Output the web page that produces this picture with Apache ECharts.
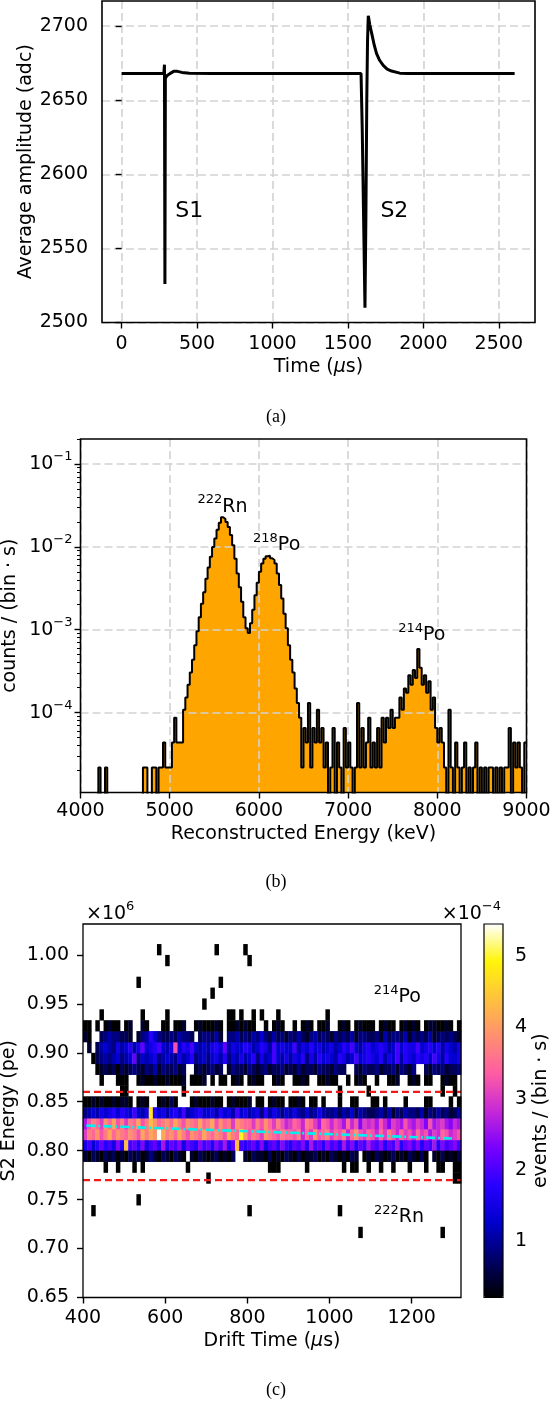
<!DOCTYPE html>
<html>
<head>
<meta charset="utf-8">
<title>Radon detector figure</title>
<script src="https://cdn.jsdelivr.net/npm/echarts@6.0.0/dist/echarts.min.js"></script>
<style>
  html, body { margin: 0; padding: 0; background: #fff; }
  #chart { width: 550px; height: 1401px; }
</style>
</head>
<body>
<div id="chart"></div>
<script>
// ---------- (a) averaged waveform ----------
var waveTime = [0, 100, 200, 280, 284, 287, 290, 300, 320, 345, 370, 400, 450, 600, 800, 1000, 1200, 1400,
  1587, 1595, 1604, 1613, 1619, 1625, 1630, 1635, 1645, 1658, 1675, 1690, 1710, 1734, 1760, 1789, 1844, 1900,
  2100, 2300, 2500, 2605];
var waveAmp = [2668, 2668, 2668, 2668, 2674, 2526, 2665, 2666.5, 2668, 2669.5, 2669.5, 2668.8, 2668.3, 2668, 2668, 2668, 2668, 2668,
  2668, 2630, 2570, 2510, 2570, 2650, 2690, 2707, 2701, 2695, 2687, 2681.5, 2677, 2673.5, 2671, 2669.7, 2668.3, 2668,
  2668, 2668, 2668, 2668];
var waveTimeTicks = [0, 500, 1000, 1500, 2000, 2500];
var waveAmpTicks = [2500, 2550, 2600, 2650, 2700];

// ---------- (b) energy spectrum, counts per 25 keV bin from 4000 keV ----------
var specFirstEdge = 4000;
var specBinWidth = 25;
var specCounts = [
  0, 0, 0, 0, 0, 0, 0, 0, 1, 0,
  0, 1, 0, 0, 0, 0, 0, 0, 0, 0,
  0, 0, 0, 0, 0, 0, 0, 0, 1, 1,
  0, 0, 1, 1, 0, 1, 1, 2, 1, 1,
  1, 2, 4, 2, 2, 2, 5, 7, 10, 14,
  20, 30, 44, 65, 95, 130, 190, 260, 350, 460,
  580, 740, 900, 1050, 1000, 920, 800, 640, 480, 330,
  220, 150, 100, 65, 48, 42, 55, 80, 120, 170,
  230, 290, 330, 355, 360, 335, 320, 290, 220, 160,
  110, 72, 48, 30, 20, 14, 9, 6, 4, 1,
  3, 2, 6, 1, 3, 2, 5, 2, 3, 1,
  2, 0, 1, 3, 0, 2, 1, 0, 3, 1,
  2, 1, 0, 1, 6, 1, 3, 1, 2, 4,
  1, 2, 1, 3, 1, 4, 2, 4, 3, 5,
  3, 4, 4, 7, 5, 9, 8, 13, 10, 15,
  12, 27, 16, 10, 13, 8, 11, 5, 7, 3,
  2, 3, 2, 1, 0, 5, 1, 0, 2, 1,
  0, 1, 2, 0, 1, 0, 1, 2, 0, 1,
  0, 1, 0, 1, 1, 0, 1, 0, 1, 0,
  1, 1, 3, 0, 2, 1, 2, 1, 0, 2
];
var specRatePerCount = 2.17e-5;   // counts / (bin s) for a single count
var specEmpty = 1e-7;             // empty bins sit below the axis floor
var specEnergyTicks = [4000, 5000, 6000, 7000, 8000, 9000];
var specRateTicks = [1e-4, 1e-3, 1e-2, 1e-1];

// ---------- (c) S2 energy vs drift time ----------
var driftFirstEdge = 400, driftBinWidth = 10;          // us
var s2FirstEdge = 0.80, s2BinHeight = 1 / 90;           // x10^6 pe, row r starts at 0.80 + r/90
var heatRateUnit = 0.217;                               // x10^-4 events/(bin s) per count
// counts per drift bin: '.' = 0, 1-9, a = 10 ... p = 25
var heatRows = {
  '12': '....1..... ....1..... 1......... .....11.1. .1.1...1.. .........1 .......... .......... .......... ..',
  '11': '11.1.1211. 12..21...1 1.112..121 1121.11212 11..1.121. .1.121.112 ..121.1211 1.1211.121 21.1221121 .1',
  '10': '21..345443 32.2458643 3435443.34 4352.44534 3546435342 4353245343 2434352443 3425344352 4343523434 32',
  '9':  '.2.3565475 6857a67896 57f6879656 5786a57668 7568759676 6957686756 7568796578 6787569687 7967868576 57',
  '8':  '..13454564 56a4656745 6547568456 4675846575 6847569657 5768475867 6587569678 7685769587 6878697586 67',
  '7':  '...1232313 2343243524 33423..232 3423.24332 4323423342 3242332433 2433..3243 3423342432 4..3243423 34',
  '6':  '....1...11 1..1211211 21112.1112 .1.11.121. 1211..121. .1121..112 11..1.121. .1..112..1 21.11..121 1.',
  '5':  '.........1 1......... ....1..... .......... .......... .......... ..1......1 .......... .......1.. 1.',
  '4':  '1121211212 21.121..12 131...1211 1211.12111 2.11.1211. 1121.11.1. ..1..11... 11.1....1. ...11....1 .1',
  '3':  '4565767868 769657m867 5786956786 6758675967 5674857646 5754645754 4535463543 3453524354 4352435342 35',
  '2':  'cfhgeigjfh ehgjfhkigh igjhfihgjg hjfigheihg gehfigehfd egfdhgecgf dfecgdfbed ecfdbedcfd cedbfcdecb dc',
  '1':  'ehgifhjgih gihfjhjipj higjhfihgj hgihfjhgni fhgeihgfhg gfhdgeifgh egfhdgifeg fdgehfdgef dgefcedgfd ef',
  '0':  '7968a897b8 k9a8b79a8c 8a9b7a98b9 a8b9c8ak98 9a8b79a8b9 8a9b8c9a8b 9a8c9b8a9c a9b8a9c8ab 9b8a9c8b9a b9',
  '-1': '2132132312 1323124213 21321.2132 1231213..2 1322131213 2131223121 3212132.12 1321231213 2131.21312 13',
  '-2': '.....1..1. ..1.1..... .....1.... .......... .....111.. ....1..... ...1.11..1 ..1..1...1 ...1..11.. 11',
  '-3': '.......... .......... .......... 1......... .......... .......... .......... .......... .......... 11'
};
// single-count cells away from the bands: [drift bin start (us), row]
var heatStrays = [[580, 18], [600, 17], [720, 18], [790, 18], [800, 17], [530, 15], [690, 13], [710, 14], [730, 15],
  [420, -6], [530, -5], [800, -6], [1020, -6], [1070, -8], [1270, -8]];
var driftTicks = [400, 600, 800, 1000, 1200];
var s2Ticks = [0.65, 0.70, 0.75, 0.80, 0.85, 0.90, 0.95, 1.00];
var colorbarTicks = [1, 2, 3, 4, 5];
var cutHigh = 0.86, cutLow = 0.77;
var fitTime = [408, 1303];
var fitEnergy = [0.8257, 0.8124];

// gnuplot2 colormap, evenly sampled
var gnuplot2 = ['#000000', '#000066', '#0000cc', '#2800ff', '#7800ff', '#c729d6',
  '#ff5ca3', '#ff8f70', '#ffc23d', '#fff50a', '#ffffff'];

var FONT = 'DejaVu Sans';

// ---------- build series data ----------
var waveData = waveTime.map(function (t, i) { return [t, waveAmp[i]]; });

var specData = specCounts.map(function (c, i) {
  return [specFirstEdge + i * specBinWidth, c > 0 ? c * specRatePerCount : specEmpty];
});
specData.push([specFirstEdge + specCounts.length * specBinWidth, specData[specData.length - 1][1]]);

var heatCells = [];
Object.keys(heatRows).forEach(function (key) {
  var row = Number(key);
  var cells = heatRows[key].replace(/ /g, '');
  for (var j = 0; j < cells.length; j++) {
    var ch = cells.charAt(j);
    var c = ch === '.' ? 0 : parseInt(ch, 36);
    if (c > 0) heatCells.push([driftFirstEdge + j * driftBinWidth, s2FirstEdge + row * s2BinHeight, c * heatRateUnit]);
  }
});
heatStrays.forEach(function (s) {
  heatCells.push([s[0], s2FirstEdge + s[1] * s2BinHeight, heatRateUnit]);
});

var minorLogTicks = [];
for (var e = -5; e <= -1; e++) {
  for (var m = 2; m <= 9; m++) minorLogTicks.push(m * Math.pow(10, e));
}

// ---------- shared styles ----------
function plain(v) { return String(v); }
function txt(size) { return { color: '#000', fontFamily: FONT, fontSize: size || 19 }; }
var richSup = {
  b: { color: '#000', fontFamily: FONT, fontSize: 19, lineHeight: 20, verticalAlign: 'middle' },
  s: { color: '#000', fontFamily: FONT, fontSize: 13, lineHeight: 14, verticalAlign: 'middle', padding: [0, 0, 14, 0] },
  n: { color: '#000', fontFamily: FONT, fontSize: 19 },
  i: { color: '#000', fontFamily: FONT, fontSize: 19, fontStyle: 'italic' }
};
function ticks(values) {
  var t = { show: true, length: 6, lineStyle: { color: '#000', width: 1.4 } };
  if (values) t.customValues = values;
  return t;
}
var dashGrid = { show: true, lineStyle: { color: '#d2d2d2', width: 1.6, type: [8, 4] } };
var frame = { show: true, borderColor: '#000', borderWidth: 1.6, backgroundColor: 'transparent', z: 5, outerBoundsMode: 'none' };

var gridA = { left: 102, top: 1, width: 433, height: 321.5 };
var gridB = { left: 80.5, top: 439, width: 446, height: 353.5 };
var gridC = { left: 83, top: 924, width: 378, height: 373.5 };
var gridBar = { left: 484, top: 924, width: 19, height: 373.5 };

var chart = echarts.init(document.getElementById('chart'));

chart.setOption({
  animation: false,
  backgroundColor: '#fff',
  textStyle: { fontFamily: FONT },
  grid: [
    Object.assign({}, gridA, frame),
    Object.assign({}, gridB, frame),
    Object.assign({}, gridC, frame, { borderWidth: 1.3 }),
    Object.assign({}, gridBar, frame, { borderWidth: 1.2, z: 6 })
  ],
  xAxis: [
    {
      gridIndex: 0, type: 'value', min: -130, max: 2740,
      axisLine: { show: false }, axisTick: ticks(waveTimeTicks),
      axisLabel: Object.assign(txt(), { customValues: waveTimeTicks, margin: 12, formatter: plain }),
      splitLine: dashGrid,
      name: '{n|Time (}{i|μ}{n|s)}', nameLocation: 'middle', nameGap: 35, nameMoveOverlap: false,
      nameTextStyle: { rich: richSup }
    },
    {
      gridIndex: 1, type: 'value', min: 4000, max: 9000, z: 2,
      axisLine: { show: false }, axisTick: ticks(specEnergyTicks),
      axisLabel: Object.assign(txt(), { customValues: specEnergyTicks, margin: 9, formatter: plain }),
      splitLine: dashGrid,
      name: 'Reconstructed Energy (keV)', nameLocation: 'middle', nameGap: 32, nameMoveOverlap: false,
      nameTextStyle: txt()
    },
    {
      gridIndex: 2, type: 'value', min: 400, max: 1320,
      axisLine: { show: false }, axisTick: ticks(driftTicks),
      axisLabel: Object.assign(txt(), { customValues: driftTicks, margin: 11, formatter: plain }),
      splitLine: { show: false },
      name: '{n|Drift Time (}{i|μ}{n|s)}', nameLocation: 'middle', nameGap: 34, nameMoveOverlap: false,
      nameTextStyle: { rich: richSup }
    },
    { gridIndex: 3, type: 'value', min: 0, max: 1, show: false }
  ],
  yAxis: [
    {
      gridIndex: 0, type: 'value', min: 2500, max: 2717,
      axisLine: { show: false }, axisTick: ticks(waveAmpTicks),
      axisLabel: Object.assign(txt(), { customValues: waveAmpTicks, margin: 14, formatter: plain }),
      splitLine: dashGrid,
      name: 'Average amplitude (adc)', nameLocation: 'middle', nameGap: 66, nameMoveOverlap: false,
      nameTextStyle: txt()
    },
    {
      gridIndex: 1, type: 'log', logBase: 10, min: 1.085e-5, max: 0.2, z: 2, position: 'left',
      axisLine: { show: false }, axisTick: ticks(specRateTicks),
      axisLabel: {
        customValues: specRateTicks, margin: 8,
        formatter: function (v) {
          var ex = Math.round(Math.log10(v));
          return '{b|10}{s|' + (ex < 0 ? '\u2212' : '') + Math.abs(ex) + '}';
        },
        rich: richSup
      },
      splitLine: dashGrid,
      name: 'counts / (bin · s)', nameLocation: 'middle', nameGap: 61, nameMoveOverlap: false,
      nameTextStyle: txt()
    },
    {
      gridIndex: 1, type: 'log', logBase: 10, min: 1.085e-5, max: 0.2, position: 'left', offset: 0,
      axisLine: { show: false },
      axisTick: { show: true, length: 3.5, lineStyle: { color: '#000', width: 1 }, customValues: minorLogTicks },
      axisLabel: { show: false }, splitLine: { show: false }
    },
    {
      gridIndex: 2, type: 'value', min: 0.65, max: 1.0316,
      axisLine: { show: false }, axisTick: ticks(s2Ticks),
      axisLabel: Object.assign(txt(), {
        customValues: s2Ticks, margin: 14,
        formatter: function (v) { return v.toFixed(2); }
      }),
      splitLine: { show: false },
      name: 'S2 Energy (pe)', nameLocation: 'middle', nameGap: 64, nameMoveOverlap: false,
      nameTextStyle: txt()
    },
    {
      gridIndex: 3, type: 'value', min: 0.21, max: 5.45, position: 'right',
      axisLine: { show: false }, axisTick: ticks(colorbarTicks),
      axisLabel: Object.assign(txt(), { customValues: colorbarTicks, margin: 12, formatter: plain }),
      splitLine: { show: false },
      name: 'events / (bin · s)', nameLocation: 'middle', nameGap: 29, nameRotate: 90, nameMoveOverlap: false,
      nameTextStyle: txt()
    }
  ],
  visualMap: {
    type: 'continuous', seriesIndex: 3, dimension: 2,
    min: 0.21, max: 5.45, calculable: false, hoverLink: false,
    inRange: { color: gnuplot2 },
    left: gridBar.left, top: gridBar.top, itemWidth: gridBar.width, itemHeight: gridBar.height,
    padding: 0, text: null, z: 4
  },
  series: [
    {
      name: 'waveform', type: 'line', xAxisIndex: 0, yAxisIndex: 0, data: waveData,
      showSymbol: false, lineStyle: { color: '#000', width: 3 }, z: 3
    },
    {
      name: 'spectrum fill', type: 'line', xAxisIndex: 1, yAxisIndex: 1, data: specData, step: 'end',
      showSymbol: false, lineStyle: { width: 0, opacity: 0 },
      areaStyle: { color: '#ffa500', opacity: 1 }, z: 1
    },
    {
      name: 'spectrum', type: 'line', xAxisIndex: 1, yAxisIndex: 1, data: specData, step: 'end',
      showSymbol: false, lineStyle: { color: '#000', width: 2 }, z: 3
    },
    {
      name: 'S2 vs drift', type: 'custom', xAxisIndex: 2, yAxisIndex: 3, data: heatCells,
      encode: { x: 0, y: 1 }, z: 1,
      renderItem: function (params, api) {
        var p0 = api.coord([api.value(0), api.value(1) + s2BinHeight]);
        var p1 = api.coord([api.value(0) + driftBinWidth, api.value(1)]);
        return {
          type: 'rect',
          shape: { x: p0[0], y: p0[1], width: p1[0] - p0[0] + 0.4, height: p1[1] - p0[1] + 0.4 },
          style: { fill: api.visual('color') }
        };
      }
    },
    {
      name: 'upper cut', type: 'line', xAxisIndex: 2, yAxisIndex: 3, data: [[400, cutHigh], [1320, cutHigh]],
      showSymbol: false, lineStyle: { color: '#f01a1a', width: 2.2, type: [7, 4] }, z: 3
    },
    {
      name: 'lower cut', type: 'line', xAxisIndex: 2, yAxisIndex: 3, data: [[400, cutLow], [1320, cutLow]],
      showSymbol: false, lineStyle: { color: '#f01a1a', width: 2.2, type: [7, 4] }, z: 3
    },
    {
      name: 'fit', type: 'line', xAxisIndex: 2, yAxisIndex: 3,
      data: [[fitTime[0], fitEnergy[0]], [fitTime[1], fitEnergy[1]]],
      showSymbol: false, lineStyle: { color: '#00f0f0', width: 2.6, type: [9, 3, 2, 3] }, z: 4
    },
    { name: 'colorbar', type: 'line', xAxisIndex: 3, yAxisIndex: 4, data: [] }
  ]
});

// ---------- annotations ----------
function supText(sup, base) { return '{s|' + sup + '}{b|' + base + '}'; }
function placed(gridIndex, point, text, extra) {
  var p = chart.convertToPixel({ gridIndex: gridIndex }, point);
  return {
    type: 'text', x: p[0], y: p[1], z: 10,
    style: Object.assign({
      text: text, rich: richSup, fill: '#000', font: '19px "DejaVu Sans"',
      align: 'center', verticalAlign: 'middle', textAlign: 'center', textVerticalAlign: 'middle'
    }, extra || {})
  };
}
function caption(y, label) {
  return {
    type: 'text', x: 276, y: y, z: 10,
    style: { text: label, fill: '#000', font: '18px "Liberation Serif"', align: 'center', verticalAlign: 'middle',
      textAlign: 'center', textVerticalAlign: 'middle' }
  };
}

chart.setOption({
  graphic: [
    placed(0, [449, 2575], 'S1', { font: '22px "DejaVu Sans"', rich: null }),
    placed(0, [1808, 2575], 'S2', { font: '22px "DejaVu Sans"', rich: null }),
    placed(1, [5592, 0.0305], supText('222', 'Rn')),
    placed(1, [6199, 0.01037], supText('218', 'Po')),
    placed(1, [7826, 8.51e-4], supText('214', 'Po')),
    placed(2, [1165, 0.9568], supText('214', 'Po')),
    placed(2, [1169, 0.732], supText('222', 'Rn')),
    {
      type: 'text', x: gridC.left + 3, y: gridC.top - 10, z: 10,
      style: { text: '{b|×10}{s|6}', rich: richSup, align: 'left', verticalAlign: 'middle',
        textAlign: 'left', textVerticalAlign: 'middle' }
    },
    {
      type: 'text', x: gridBar.left + gridBar.width - 2, y: gridBar.top - 10, z: 10,
      style: { text: '{b|×10}{s|\u22124}', rich: richSup, align: 'right', verticalAlign: 'middle',
        textAlign: 'right', textVerticalAlign: 'middle' }
    },
    caption(417, '(a)'),
    caption(882.5, '(b)'),
    caption(1390, '(c)')
  ]
});
</script>
</body>
</html>
